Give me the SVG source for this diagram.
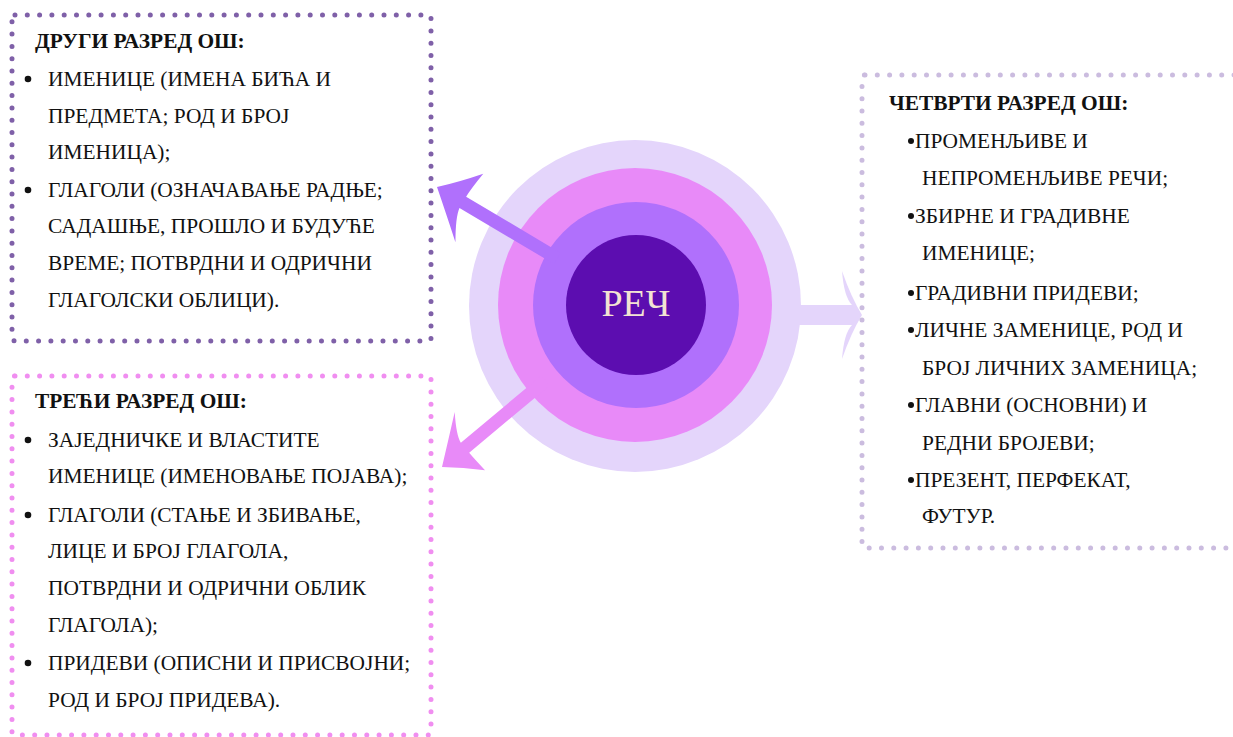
<svg xmlns="http://www.w3.org/2000/svg" width="1233" height="737" viewBox="0 0 1233 737">
<style>
.box{fill:none;stroke-width:5;stroke-linecap:round;stroke-dasharray:0 12.3}
.t{font-family:"Liberation Serif","Times New Roman",serif;font-size:21.4px;fill:#111}
.h{font-weight:bold}
.b{fill:#111}
</style>
<rect width="1233" height="737" fill="#ffffff"/>
<g id="center">
<circle cx="635" cy="306" r="166" fill="#e4d5fb"/>
<circle cx="635" cy="305" r="137" fill="#e88af8"/>
<circle cx="636" cy="305" r="103" fill="#b070fc"/>
<circle cx="636" cy="305" r="70" fill="#5c0db0"/>
<text x="636" y="316" text-anchor="middle" font-family="'Liberation Serif',serif" font-size="38" fill="#f3e3d3">РЕЧ</text>
</g>
<g id="connectors">
<path transform="translate(437,187) rotate(-149.3)" fill="#b070fc" d="M0,0 Q-20,-17 -44,-38 Q-31,-16 -30,-6.5 L-140,-6.5 L-140,6.5 L-30,6.5 Q-30,15 -33,35 Q-16,15 0,0Z"/>
<path transform="translate(442,467) rotate(140.1)" fill="#e88af8" d="M0,0 Q-16,-14 -31,-30 Q-30,-15 -30,-6.5 L-135,-6.5 L-135,6.5 L-30,6.5 Q-31,15 -45,34 Q-20,15 0,0Z"/>
<path transform="translate(862,315)" fill="#e4d5fb" d="M0,0 Q-11,-18 -20,-44 Q-18,-18 -10,-10 L-70,-10 L-70,10 L-10,10 Q-18,18 -20,44 Q-11,18 0,0Z"/>
</g>
<g id="box-drugi">
<rect class="box" x="12" y="15" width="419" height="326" rx="3" stroke="#7f60a8"/>
<text class="t h" x="35" y="48">ДРУГИ РАЗРЕД ОШ:</text>
<circle class="b" cx="28" cy="79" r="3.3"/>
<text class="t" x="48" y="86">ИМЕНИЦЕ (ИМЕНА БИЋА И</text>
<text class="t" x="48" y="123">ПРЕДМЕТА; РОД И БРОЈ</text>
<text class="t" x="48" y="159">ИМЕНИЦА);</text>
<circle class="b" cx="28" cy="190" r="3.3"/>
<text class="t" x="48" y="197">ГЛАГОЛИ (ОЗНАЧАВАЊЕ РАДЊЕ;</text>
<text class="t" x="48" y="233">САДАШЊЕ, ПРОШЛО И БУДУЋЕ</text>
<text class="t" x="48" y="270">ВРЕМЕ; ПОТВРДНИ И ОДРИЧНИ</text>
<text class="t" x="48" y="307">ГЛАГОЛСКИ ОБЛИЦИ).</text>
</g>
<g id="box-treci">
<rect class="box" x="12" y="376" width="419" height="359" rx="3" stroke="#f08ef0"/>
<text class="t h" x="35" y="408">ТРЕЋИ РАЗРЕД ОШ:</text>
<circle class="b" cx="28" cy="440" r="3.3"/>
<text class="t" x="48" y="447">ЗАЈЕДНИЧКЕ И ВЛАСТИТЕ</text>
<text class="t" x="48" y="483">ИМЕНИЦЕ (ИМЕНОВАЊЕ ПОЈАВА);</text>
<circle class="b" cx="28" cy="515" r="3.3"/>
<text class="t" x="48" y="522">ГЛАГОЛИ (СТАЊЕ И ЗБИВАЊЕ,</text>
<text class="t" x="48" y="558">ЛИЦЕ И БРОЈ ГЛАГОЛА,</text>
<text class="t" x="48" y="595">ПОТВРДНИ И ОДРИЧНИ ОБЛИК</text>
<text class="t" x="48" y="632">ГЛАГОЛА);</text>
<circle class="b" cx="28" cy="663" r="3.3"/>
<text class="t" x="48" y="670">ПРИДЕВИ (ОПИСНИ И ПРИСВОЈНИ;</text>
<text class="t" x="48" y="707">РОД И БРОЈ ПРИДЕВА).</text>
</g>
<g id="box-cetvrti">
<rect class="box" x="862" y="75" width="385" height="473" rx="3" stroke="#cbbcdf"/>
<text class="t h" x="889" y="110">ЧЕТВРТИ РАЗРЕД ОШ:</text>
<circle class="b" cx="911" cy="141" r="3"/>
<text class="t" x="915" y="148">ПРОМЕНЉИВЕ И</text>
<text class="t" x="922" y="185">НЕПРОМЕНЉИВЕ РЕЧИ;</text>
<circle class="b" cx="911" cy="216" r="3"/>
<text class="t" x="915" y="223">ЗБИРНЕ И ГРАДИВНЕ</text>
<text class="t" x="922" y="260">ИМЕНИЦЕ;</text>
<circle class="b" cx="911" cy="293" r="3"/>
<text class="t" x="915" y="300">ГРАДИВНИ ПРИДЕВИ;</text>
<circle class="b" cx="911" cy="330" r="3"/>
<text class="t" x="915" y="337">ЛИЧНЕ ЗАМЕНИЦЕ, РОД И</text>
<text class="t" x="922" y="375">БРОЈ ЛИЧНИХ ЗАМЕНИЦА;</text>
<circle class="b" cx="911" cy="405" r="3"/>
<text class="t" x="915" y="412">ГЛАВНИ (ОСНОВНИ) И</text>
<text class="t" x="922" y="450">РЕДНИ БРОЈЕВИ;</text>
<circle class="b" cx="911" cy="480" r="3"/>
<text class="t" x="915" y="487">ПРЕЗЕНТ, ПЕРФЕКАТ,</text>
<text class="t" x="922" y="523">ФУТУР.</text>
</g>
</svg>
